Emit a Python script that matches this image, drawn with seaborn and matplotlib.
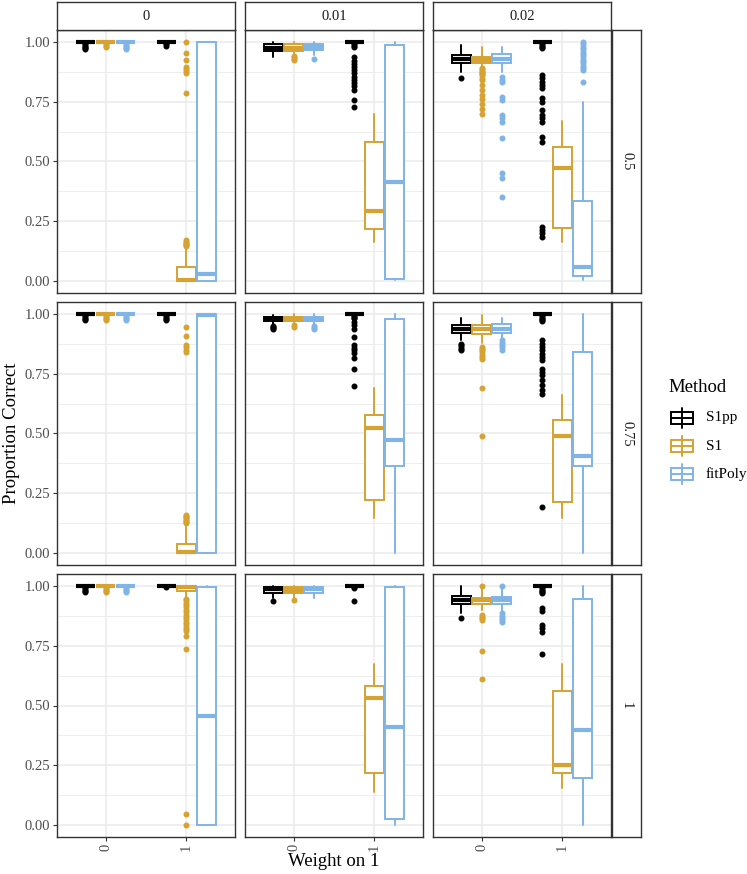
import matplotlib
matplotlib.use("Agg")
import matplotlib.pyplot as plt
import seaborn as sns
import numpy as np
from matplotlib.patches import Rectangle

# ---------------- data ----------------
col_levels = ["0", "0.01", "0.02"]      # facet columns
row_levels = ["0.5", "0.75", "1"]       # facet rows
weights = ["0", "1"]                     # x categories
methods = ["S1pp", "S1", "fitPoly"]
palette = ["#000000", "#D6A232", "#80B4E6"]

# Each stat: [row][col][weight][method]
Q1 = [
    [[[1, 1, 1], [1, 0.0, 0.0]],
     [[0.964, 0.964, 0.965], [1, 0.218, 0.010]],
     [[0.911, 0.911, 0.911], [1, 0.223, 0.021]]],
    [[[1, 1, 1], [1, 0.0, 0.0]],
     [[0.970, 0.972, 0.972], [1, 0.220, 0.362]],
     [[0.921, 0.918, 0.921], [1, 0.215, 0.362]]],
    [[[1, 1, 1], [1, 0.980, 0.0]],
     [[0.972, 0.972, 0.972], [1, 0.217, 0.027]],
     [[0.924, 0.923, 0.924], [1, 0.216, 0.196]]],
]
MED = [
    [[[1, 1, 1], [1, 0.005, 0.029]],
     [[0.976, 0.976, 0.978], [1, 0.293, 0.414]],
     [[0.928, 0.925, 0.928], [1, 0.474, 0.057]]],
    [[[1, 1, 1], [1, 0.005, 0.995]],
     [[0.979, 0.980, 0.980], [1, 0.523, 0.474]],
     [[0.936, 0.939, 0.939], [1, 0.488, 0.404]]],
    [[[1, 1, 1], [1, 0.995, 0.455]],
     [[0.986, 0.985, 0.986], [1, 0.532, 0.412]],
     [[0.941, 0.941, 0.940], [1, 0.252, 0.398]]],
]
Q3 = [
    [[[1, 1, 1], [1, 0.057, 1.0]],
     [[0.990, 0.990, 0.990], [1, 0.582, 0.987]],
     [[0.946, 0.939, 0.948], [1, 0.562, 0.336]]],
    [[[1, 1, 1], [1, 0.039, 1.0]],
     [[0.988, 0.988, 0.988], [1, 0.579, 0.978]],
     [[0.953, 0.953, 0.956], [1, 0.558, 0.841]]],
    [[[1, 1, 1], [1, 1.0, 0.995]],
     [[0.997, 0.997, 0.997], [1, 0.581, 0.997]],
     [[0.959, 0.950, 0.952], [1, 0.559, 0.944]]],
]
WLO = [
    [[[1, 1, 1], [1, 0.0, 0.0]],
     [[0.939, 0.945, 0.945], [1, 0.162, 0.004]],
     [[0.876, 0.895, 0.876], [1, 0.162, 0.004]]],
    [[[1, 1, 1], [1, 0.0, 0.0]],
     [[0.960, 0.960, 0.960], [1, 0.146, 0.0]],
     [[0.890, 0.880, 0.897], [1, 0.146, 0.0]]],
    [[[1, 1, 1], [1, 0.950, 0.0]],
     [[0.948, 0.948, 0.950], [1, 0.140, 0.0]],
     [[0.885, 0.900, 0.892], [1, 0.154, 0.0]]],
]
WHI = [
    [[[1, 1, 1], [1, 0.140, 1.0]],
     [[1.0, 1.0, 1.0], [1, 0.699, 0.999]],
     [[0.987, 0.980, 0.978], [1, 0.671, 0.750]]],
    [[[1, 1, 1], [1, 0.120, 1.0]],
     [[0.995, 1.0, 1.0], [1, 0.691, 1.0]],
     [[0.985, 0.995, 0.981], [1, 0.662, 1.0]]],
    [[[1, 1, 1], [1, 1.0, 1.0]],
     [[1.0, 1.0, 1.0], [1, 0.675, 1.0]],
     [[0.999, 0.990, 0.986], [1, 0.675, 1.0]]],
]
T_TAIL = [0.995, 0.99, 0.985, 0.98, 0.975, 0.97]
OUT = [
    [[[T_TAIL, T_TAIL[:4], T_TAIL],
      [T_TAIL[:3],
       [0.145, 0.15, 0.155, 0.16, 0.165, 0.17, 0.785, 0.87, 0.879, 0.887, 0.897, 0.923, 0.953, 1.0],
       []]],
     [[[], [0.94, 0.935, 0.93, 0.925], [0.93]],
      [T_TAIL[:4] + [0.936, 0.922, 0.908, 0.897, 0.883, 0.869, 0.855, 0.841, 0.827, 0.816, 0.799, 0.757, 0.729],
       [], []]],
     [[[0.848],
       [0.89, 0.885, 0.88, 0.875, 0.87, 0.865, 0.86, 0.85, 0.84, 0.82, 0.80, 0.78, 0.76, 0.74, 0.72, 0.70],
       [0.855, 0.841, 0.834, 0.771, 0.757, 0.695, 0.681, 0.667, 0.597, 0.451, 0.43, 0.35]],
      [T_TAIL[:5] + [0.862, 0.848, 0.834, 0.820, 0.806, 0.764, 0.750, 0.715, 0.695, 0.681, 0.667, 0.604, 0.583,
                     0.227, 0.213, 0.2, 0.185],
       [],
       [1.0, 0.99, 0.98, 0.97, 0.96, 0.95, 0.94, 0.93, 0.92, 0.91, 0.90, 0.89, 0.883, 0.834]]]],
    [[[T_TAIL[:5], T_TAIL[:5], T_TAIL[:5]],
      [T_TAIL[:5],
       [0.125, 0.13, 0.135, 0.14, 0.145, 0.15, 0.155, 0.16, 0.84, 0.85, 0.86, 0.87, 0.908, 0.946],
       []]],
     [[[0.95, 0.945, 0.94, 0.935], [0.955, 0.945], [0.95, 0.94, 0.935]],
      [T_TAIL[:3] + [0.981, 0.967, 0.953, 0.939, 0.904, 0.869, 0.859, 0.848, 0.838, 0.817, 0.768, 0.698],
       [], []]],
     [[[0.876, 0.87, 0.862, 0.855, 0.848],
       [0.862, 0.855, 0.848, 0.84, 0.83, 0.82, 0.813, 0.691, 0.488],
       [0.89, 0.88, 0.87, 0.86, 0.848]],
      [T_TAIL + [0.89, 0.876, 0.862, 0.848, 0.834, 0.82, 0.806, 0.771, 0.757, 0.743, 0.722, 0.701, 0.680,
                 0.666, 0.193],
       [], []]]],
    [[[T_TAIL[:5], T_TAIL[:5], T_TAIL[:5]],
      [[0.995],
       [0.945, 0.94, 0.93, 0.92, 0.91, 0.90, 0.89, 0.88, 0.87, 0.86, 0.85, 0.84, 0.83, 0.82, 0.81,
        0.791, 0.735, 0.047, 0.0],
       []]],
     [[[0.938], [0.94], []],
      [[0.995, 0.99, 0.938], [], []]],
     [[[0.864],
       [1.0, 0.878, 0.87, 0.864, 0.857, 0.728, 0.609],
       [1.0, 0.885, 0.875, 0.865, 0.857, 0.85]],
      [T_TAIL + [0.906, 0.896, 0.836, 0.826, 0.808, 0.714], [], []]]],
]

y_ticks = [0.0, 0.25, 0.5, 0.75, 1.0]
y_tick_labels = ["0.00", "0.25", "0.50", "0.75", "1.00"]

# ---------------- styling ----------------
sns.set_theme(style="white")
plt.rcParams["font.family"] = ["Liberation Serif", "DejaVu Serif"]

W, H = 747, 874
fig = plt.figure(figsize=(W / 100, H / 100), dpi=100)

def px_axes(x, y, w, h):
    return fig.add_axes([x / W, 1 - (y + h) / H, w / W, h / H])

border = "#333333"
grid_c = "#EBEBEB"
tick_c = "#4D4D4D"

col_x = [57, 245, 433]
pw = 178
row_y = [30, 302, 574]
ph = 263
offsets = [-0.25, 0.0, 0.25]

for r in range(3):
    for c in range(3):
        ax = px_axes(col_x[c], row_y[r], pw, ph)
        ax.set_facecolor("white")
        ax.set_xlim(-0.6, 1.6)
        ax.set_ylim(-0.05, 1.05)
        ax.set_yticks(y_ticks)
        ax.set_yticks([0.125, 0.375, 0.625, 0.875], minor=True)
        ax.set_xticks([0, 1])
        ax.grid(True, which="major", color=grid_c, lw=1.1, zorder=0)
        ax.grid(True, which="minor", axis="y", color=grid_c, lw=0.6, zorder=0)
        ax.set_axisbelow(True)
        for s in ax.spines.values():
            s.set_color(border)
            s.set_linewidth(1.0)
        for wi in range(2):
            for mi in range(3):
                col = palette[mi]
                st = dict(med=MED[r][c][wi][mi], q1=Q1[r][c][wi][mi], q3=Q3[r][c][wi][mi],
                          whislo=WLO[r][c][wi][mi], whishi=WHI[r][c][wi][mi],
                          fliers=np.array(OUT[r][c][wi][mi], dtype=float))
                ax.bxp([st], positions=[wi + offsets[mi]], widths=0.235, showcaps=False,
                       patch_artist=True, manage_ticks=False,
                       boxprops=dict(facecolor="white", edgecolor=col, lw=1.4),
                       whiskerprops=dict(color=col, lw=1.4),
                       medianprops=dict(color=col, lw=3.0, solid_capstyle="butt"),
                       flierprops=dict(marker="o", markerfacecolor=col, markeredgecolor=col,
                                       markersize=3.3, linestyle="none"))
        ax.tick_params(axis="both", which="major", length=3, width=0.8, color=border,
                       labelsize=10.5, labelcolor=tick_c, pad=2)
        ax.tick_params(which="minor", length=0)
        if c == 0:
            ax.set_yticklabels(y_tick_labels)
        else:
            ax.set_yticklabels([])
            ax.tick_params(axis="y", length=0)
        if r == 2:
            ax.set_xticklabels(weights, rotation=90)
        else:
            ax.set_xticklabels([])
            ax.tick_params(axis="x", length=0)
        ax.tick_params(left=(c == 0), bottom=(r == 2))

# top strips
for c in range(3):
    sa = px_axes(col_x[c], 2, pw, 28)
    sa.set_xticks([]); sa.set_yticks([])
    sa.set_facecolor("white")
    for s in sa.spines.values():
        s.set_color(border); s.set_linewidth(1.0)
    sa.text(0.5, 0.5, col_levels[c], ha="center", va="center", fontsize=10.5,
            color="#1A1A1A", transform=sa.transAxes)

# right strips
for r in range(3):
    sa = px_axes(612, row_y[r], 29, ph)
    sa.set_xticks([]); sa.set_yticks([])
    sa.set_facecolor("white")
    for s in sa.spines.values():
        s.set_color(border); s.set_linewidth(1.0)
    sa.text(0.5, 0.5, row_levels[r], ha="center", va="center", fontsize=10.5,
            color="#1A1A1A", rotation=-90, transform=sa.transAxes)

# axis titles
fig.text(12 / W, 1 - 433 / H, "Proportion Correct", rotation=90, ha="center", va="center",
         fontsize=13.5, color="black")
fig.text(334 / W, 1 - 862 / H, "Weight on 1", ha="center", va="center", fontsize=13.5, color="black")

# legend
la = px_axes(655, 370, 92, 120)
la.set_xlim(655, 747)
la.set_ylim(490, 370)
la.axis("off")
la.text(668, 387, "Method", ha="left", va="center", fontsize=13.5, color="black")
for i, m in enumerate(methods):
    yc = 418 + 28 * i
    col = palette[i]
    la.plot([682, 682], [yc - 10, yc + 10], color=col, lw=1.4)
    la.add_patch(Rectangle((671, yc - 6), 22, 12, facecolor="white", edgecolor=col, lw=1.4))
    la.plot([671, 693], [yc, yc], color=col, lw=1.4)
    la.text(706, yc, m, ha="left", va="center", fontsize=11, color="black")

fig.savefig("out.png", dpi=100, facecolor="white")
